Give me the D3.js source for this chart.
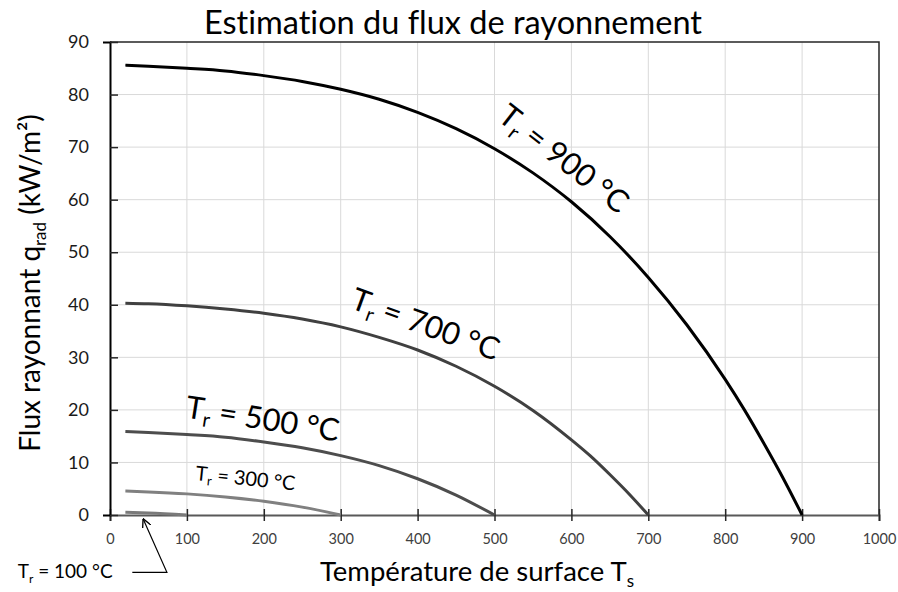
<!DOCTYPE html>
<html>
<head>
<meta charset="utf-8">
<script src="https://cdn.jsdelivr.net/npm/d3@7"></script>
<style>
  body { margin: 0; background: #fff; }
  svg { font-family: Lato, "Open Sans", sans-serif; font-variant-ligatures: none; }
</style>
</head>
<body>
<script>
'use strict'

// surface temperature Ts (°C) where the curves were read
let ts900 = [20, 50, 100, 150, 200, 250, 300, 350, 400, 450, 500, 550, 600, 650, 700, 750, 800, 825, 850, 875, 900]
let q900  = [85.6, 85.4, 85.0, 84.5, 83.6, 82.5, 81.0, 79.1, 76.6, 73.5, 69.7, 65.1, 59.6, 53.0, 45.2, 36.2, 25.8, 20.0, 13.7, 7.1, 0]
let ts700 = [20, 50, 100, 150, 200, 250, 300, 350, 400, 450, 500, 550, 600, 625, 650, 675, 700]
let q700  = [40.3, 40.2, 39.8, 39.2, 38.4, 37.3, 35.8, 33.8, 31.4, 28.3, 24.5, 19.9, 14.3, 11.2, 7.7, 4.0, 0]
let ts500 = [20, 50, 100, 150, 200, 250, 300, 350, 400, 450, 500]
let q500  = [15.9, 15.7, 15.3, 14.8, 13.9, 12.8, 11.3, 9.4, 6.9, 3.8, 0]
let ts300 = [20, 50, 100, 150, 200, 250, 300]
let q300  = [4.56, 4.40, 4.02, 3.44, 2.62, 1.50, 0]
let ts100 = [20, 50, 100]
let q100  = [0.54, 0.38, 0]

let xTicks = [0, 100, 200, 300, 400, 500, 600, 700, 800, 900, 1000]
let yTicks = [0, 10, 20, 30, 40, 50, 60, 70, 80, 90]

let width = 898, height = 592
let margin = { top: 42, right: 19, bottom: 77, left: 110 }

let series = [
  { ts: ts900, q: q900, color: "#000000", w: 3 },
  { ts: ts700, q: q700, color: "#404040", w: 3 },
  { ts: ts500, q: q500, color: "#4d4d4d", w: 3 },
  { ts: ts300, q: q300, color: "#808080", w: 3 },
  { ts: ts100, q: q100, color: "#7a7a7a", w: 3 }
]

// labels: position in data units, angle, font size
let labels = [
  { t: 588, v: 67.4, a: 38, size: 31, num: "900" },
  { t: 409, v: 35.8, a: 20, size: 31, num: "700" },
  { t: 198, v: 17.8, a: 9, size: 31, num: "500" },
  { t: 176, v: 6.6, a: 6, size: 20, num: "300" }
]

let svg = d3.select("body").append("svg")
  .attr("width", width)
  .attr("height", height)

let x = d3.scaleLinear().domain([0, 1000]).range([margin.left, width - margin.right])
let y = d3.scaleLinear().domain([0, 90]).range([height - margin.bottom, margin.top])

// grid
svg.append("g").selectAll("line")
  .data(xTicks.slice(1, -1))
  .enter().append("line")
  .attr("x1", d => x(d)).attr("x2", d => x(d))
  .attr("y1", y(0)).attr("y2", y(90))
  .attr("stroke", "#d9d9d9").attr("stroke-width", 1)

svg.append("g").selectAll("line")
  .data(yTicks.slice(1, -1))
  .enter().append("line")
  .attr("x1", x(0)).attr("x2", x(1000))
  .attr("y1", d => y(d)).attr("y2", d => y(d))
  .attr("stroke", "#d9d9d9").attr("stroke-width", 1)

// frame top / right
svg.append("path")
  .attr("d", "M" + x(0) + "," + y(90) + "H" + x(1000) + "V" + y(0))
  .attr("fill", "none").attr("stroke", "#262626").attr("stroke-width", 1.5)

// x axis
let xAxis = svg.append("g")
  .attr("transform", "translate(0," + y(0) + ")")
  .call(d3.axisBottom(x).tickValues(xTicks).tickFormat(d3.format("d")).tickSize(6).tickPadding(13))
xAxis.select(".domain").attr("stroke", "#595959").attr("stroke-width", 2)
xAxis.selectAll(".tick line").attr("y1", -6).attr("stroke", "#262626").attr("stroke-width", 1.5)
xAxis.selectAll("text").attr("font-size", 14.5).attr("fill", "#404040")
  .attr("font-family", "Lato, 'Open Sans', sans-serif")

// y axis
let yAxis = svg.append("g")
  .attr("transform", "translate(" + x(0) + ",0)")
  .call(d3.axisLeft(y).tickValues(yTicks).tickSize(7).tickPadding(14))
yAxis.select(".domain").attr("stroke", "#000").attr("stroke-width", 2)
yAxis.selectAll(".tick line").attr("x2", 8).attr("stroke", "#262626").attr("stroke-width", 1.5)
yAxis.selectAll("text").attr("font-size", 18).attr("fill", "#1a1a1a")
  .attr("font-family", "Lato, 'Open Sans', sans-serif")

// curves
let line = d3.line()
  .x(d => x(d[0]))
  .y(d => y(d[1]))
  .curve(d3.curveMonotoneX)

svg.append("g").selectAll("path")
  .data(series.slice().reverse())
  .enter().append("path")
  .attr("d", s => line(s.ts.map((t, i) => [t, s.q[i]])))
  .attr("fill", "none")
  .attr("stroke", s => s.color)
  .attr("stroke-width", s => s.w)

// curve labels
labels.forEach(l => {
  let t = svg.append("text")
    .attr("transform", "translate(" + x(l.t) + "," + y(l.v) + ")rotate(" + l.a + ")")
    .attr("text-anchor", "middle")
    .attr("dominant-baseline", "middle")
    .attr("font-size", l.size)
    .attr("fill", "#000")
  t.append("tspan").text("T")
  t.append("tspan").attr("font-size", l.size * 0.65).attr("dy", l.size * 0.3).text("r")
  t.append("tspan").attr("dy", -l.size * 0.3).text(" = " + l.num + " °C")
})

// Tr = 100 °C callout
let c = svg.append("text")
  .attr("x", x(-120)).attr("y", y(-12))
  .attr("font-size", 19).attr("fill", "#000")
c.append("tspan").text("T")
c.append("tspan").attr("font-size", 12).attr("dy", 5).text("r")
c.append("tspan").attr("dy", -5).text(" = 100 °C")

svg.append("defs").append("marker")
  .attr("id", "arr").attr("viewBox", "0 0 10 10")
  .attr("refX", 10).attr("refY", 5)
  .attr("markerWidth", 9).attr("markerHeight", 9)
  .attr("markerUnits", "userSpaceOnUse")
  .attr("orient", "auto")
  .append("path").attr("d", "M0,0L10,5L0,10")
  .attr("fill", "none").attr("stroke", "#000").attr("stroke-width", 1.5)

svg.append("path")
  .attr("d", "M" + x(29) + "," + y(-10.9) + "H" + x(74) + "L" + x(43) + "," + y(-0.7))
  .attr("fill", "none").attr("stroke", "#000").attr("stroke-width", 1.2)
  .attr("marker-end", "url(#arr)")

// titles
svg.append("text")
  .attr("x", 453).attr("y", 34)
  .attr("text-anchor", "middle")
  .attr("font-size", 32.5)
  .text("Estimation du flux de rayonnement")

let xt = svg.append("text")
  .attr("x", 477).attr("y", 581)
  .attr("text-anchor", "middle")
  .attr("font-size", 27.5)
xt.append("tspan").text("Température de surface T")
xt.append("tspan").attr("font-size", 17).attr("dy", 6).text("s")

let yt = svg.append("text")
  .attr("transform", "translate(40," + 283 + ")rotate(-90)")
  .attr("text-anchor", "middle")
  .attr("font-size", 28)
yt.append("tspan").text("Flux rayonnant q")
yt.append("tspan").attr("font-size", 17).attr("dy", 6).text("rad")
yt.append("tspan").attr("dy", -6).text(" (kW/m²)")
</script>
</body>
</html>
